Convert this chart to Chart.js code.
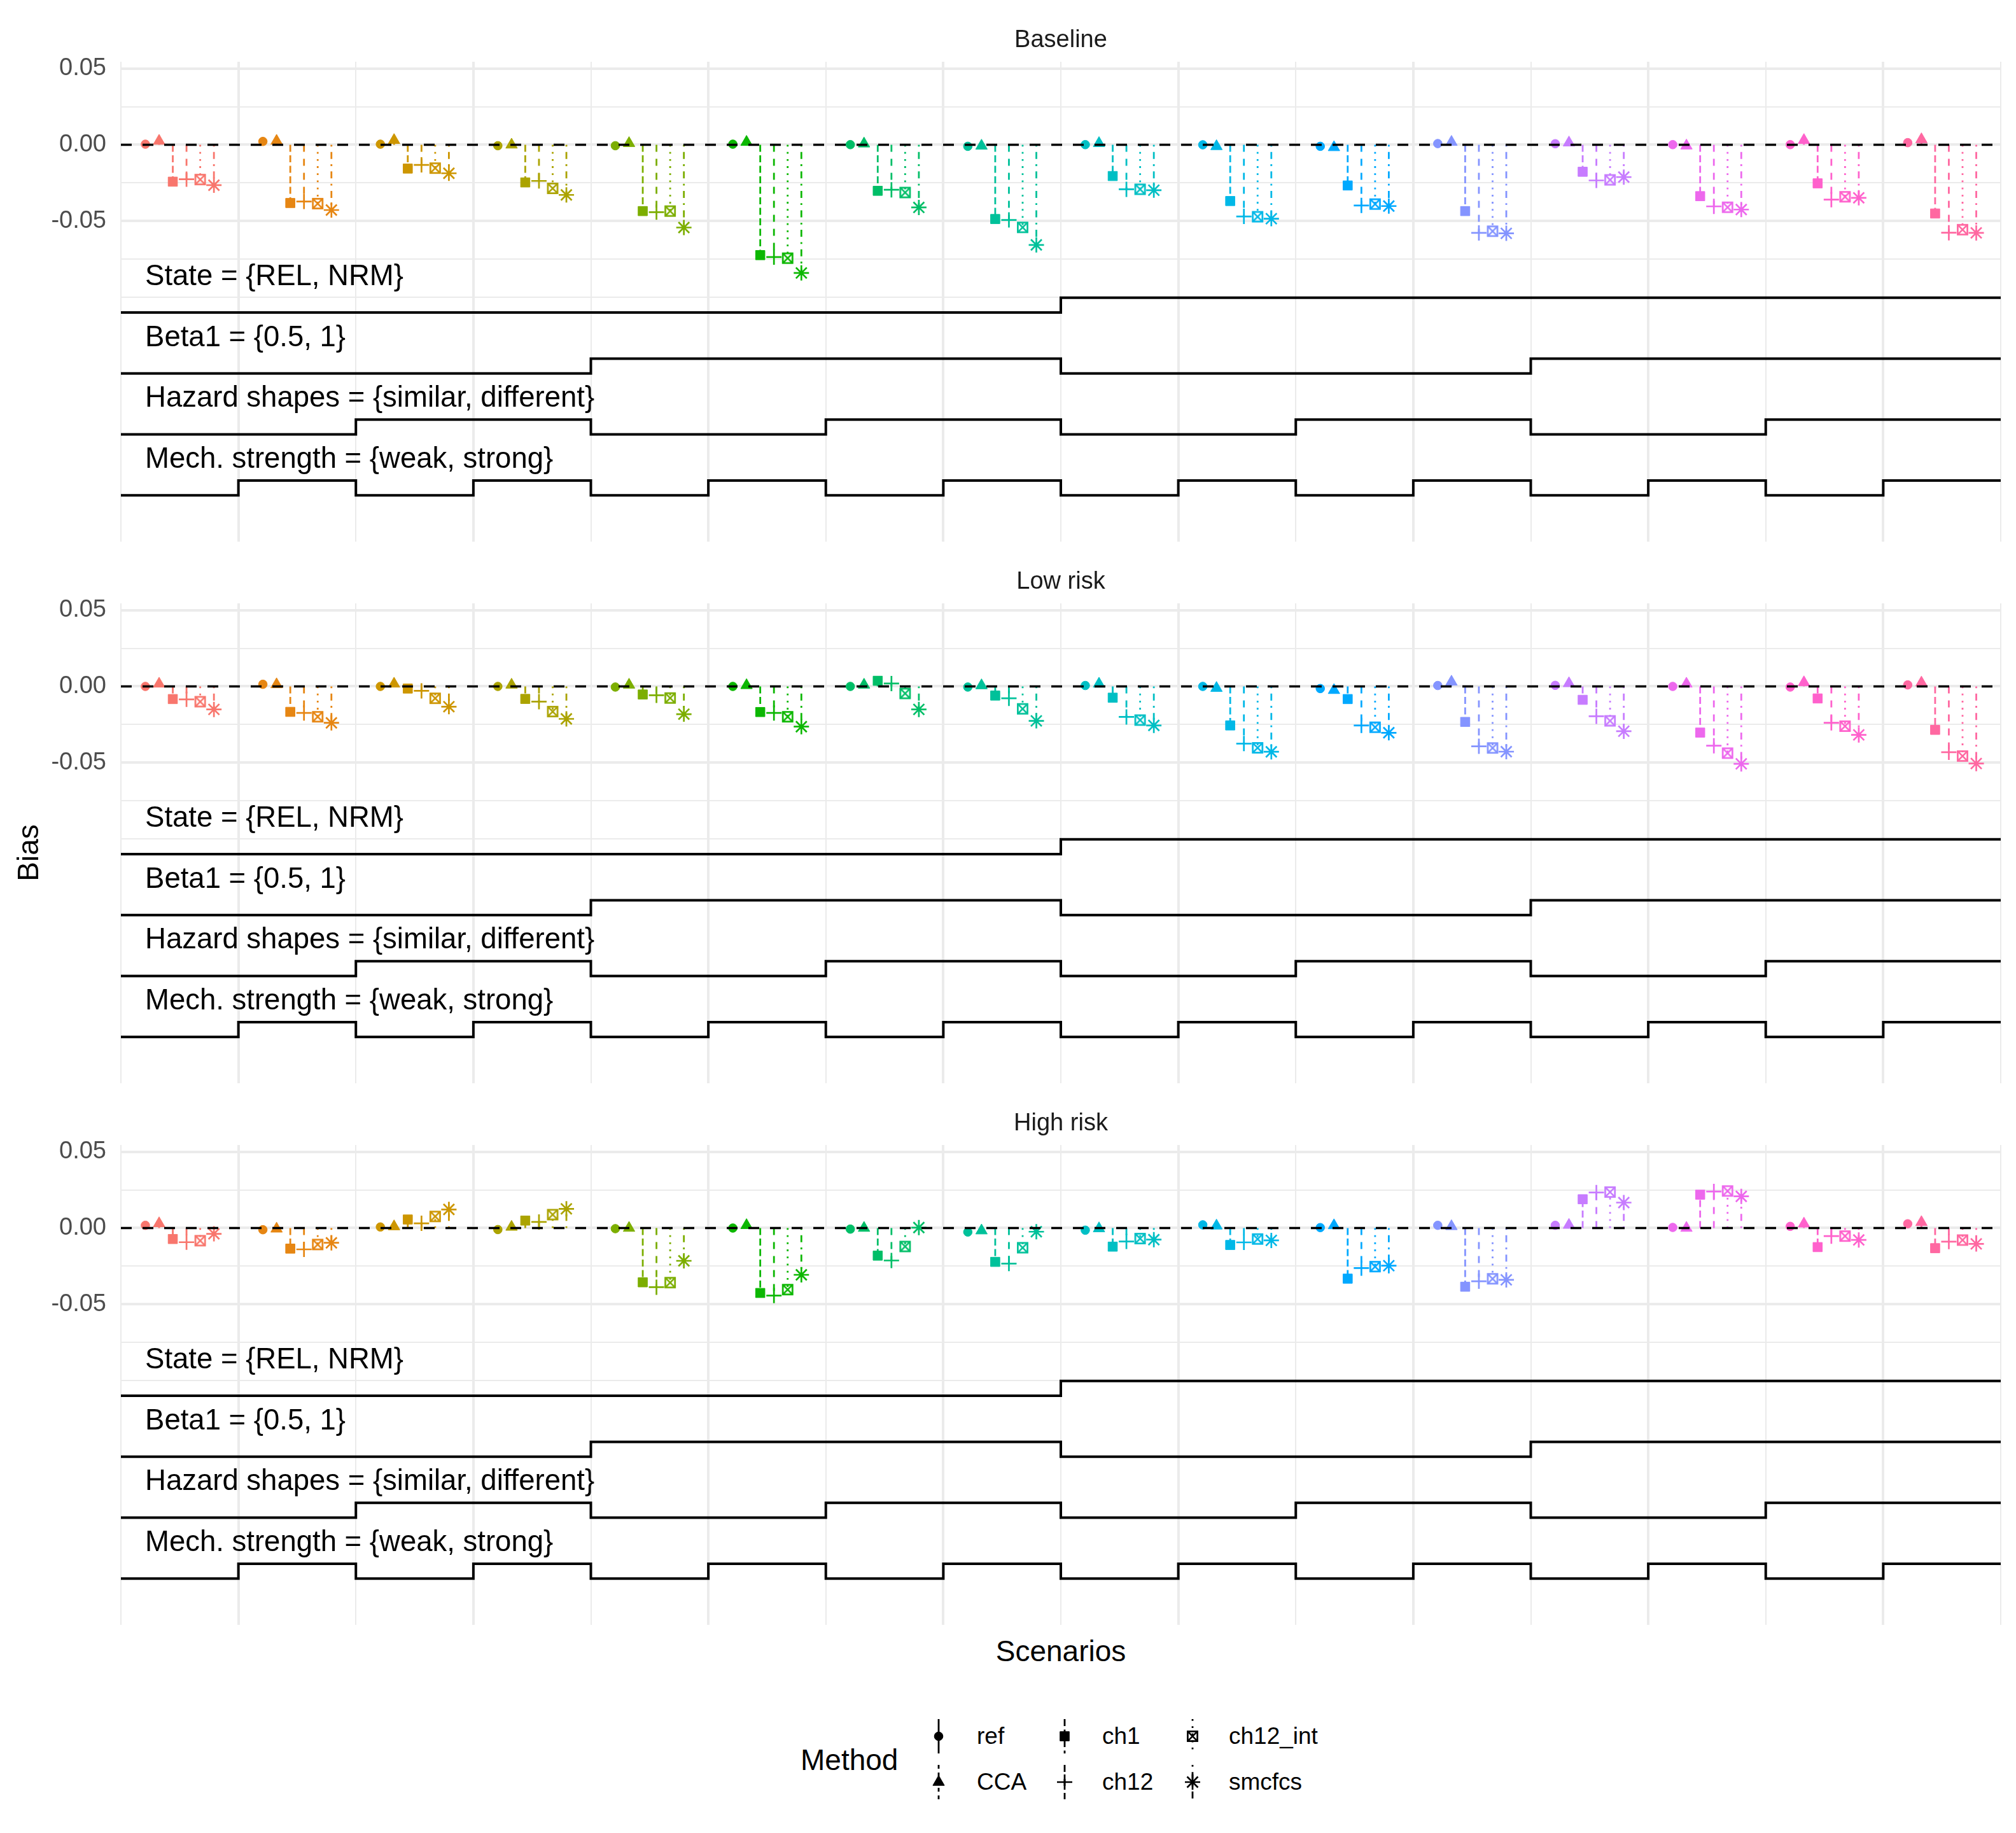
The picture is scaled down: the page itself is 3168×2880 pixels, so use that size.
<!DOCTYPE html>
<html>
<head>
<meta charset="utf-8">
<title>Bias by scenario</title>
<script src="https://cdn.jsdelivr.net/npm/chart.js@4.4.1/dist/chart.umd.min.js"></script>
<style>
html, body { margin:0; padding:0; background:#ffffff; }
#wrap { position:relative; width:3168px; height:2880px; background:#ffffff; font-family:"Liberation Sans", Arial, Helvetica, sans-serif; color:#000; overflow:hidden; }
.panel { position:absolute; left:0; width:3168px; height:851px; }
.panel canvas { display:block; }
.txt { position:absolute; white-space:nowrap; }
#ytitle { left:-56px; top:1310px; width:200px; height:60px; line-height:60px; text-align:center; font-size:46px; transform:rotate(-90deg); }
#xtitle { left:1367px; top:2564px; width:600px; height:60px; line-height:60px; text-align:center; font-size:46px; }
#legtitle { left:1258px; top:2735px; height:60px; line-height:60px; font-size:46px; }
.keylab { font-size:37px; height:50px; line-height:50px; }
.keycv { position:absolute; }
</style>
</head>
<body>
<div id="wrap">
  <div class="panel" style="top:0px"><canvas id="p0" width="3168" height="851"></canvas></div>
  <div class="panel" style="top:851px"><canvas id="p1" width="3168" height="851"></canvas></div>
  <div class="panel" style="top:1702px"><canvas id="p2" width="3168" height="851"></canvas></div>
  <div class="txt" id="ytitle">Bias</div>
  <div class="txt" id="xtitle">Scenarios</div>
  <div class="txt" id="legtitle">Method</div>
</div>
<script>
// ---------------- DATA ----------------
const scenarios = [1, 2, 3, 4, 5, 6, 7, 8, 9, 10, 11, 12, 13, 14, 15, 16];
const methods = ['ref', 'CCA', 'ch1', 'ch12', 'ch12_int', 'smcfcs'];
const panelTitles = ['Baseline', 'Low risk', 'High risk'];

const baseline_ref     = [0.0004, 0.0022, 0.0004, -0.0006, -0.0006, 0.0004, 0.0001, -0.0010, 0.0001, 0.0000, -0.0010, 0.0008, 0.0007, 0.0001, 0.0001, 0.0014];
const baseline_CCA     = [0.0025, 0.0025, 0.0030, 0.0000, 0.0010, 0.0018, 0.0007, -0.0007, 0.0010, -0.0010, -0.0017, 0.0018, 0.0014, -0.0006, 0.0030, 0.0035];
const baseline_ch1     = [-0.0242, -0.0382, -0.0156, -0.0247, -0.0435, -0.0724, -0.0302, -0.0487, -0.0205, -0.0369, -0.0267, -0.0435, -0.0177, -0.0337, -0.0253, -0.0451];
const baseline_ch12    = [-0.0226, -0.0372, -0.0132, -0.0237, -0.0442, -0.0737, -0.0295, -0.0493, -0.0292, -0.0470, -0.0398, -0.0578, -0.0234, -0.0404, -0.0360, -0.0577];
const baseline_ch12int = [-0.0228, -0.0386, -0.0153, -0.0286, -0.0435, -0.0744, -0.0313, -0.0542, -0.0292, -0.0472, -0.0389, -0.0567, -0.0230, -0.0410, -0.0341, -0.0557];
const baseline_smcfcs  = [-0.0265, -0.0428, -0.0187, -0.0329, -0.0543, -0.0841, -0.0411, -0.0657, -0.0298, -0.0485, -0.0402, -0.0581, -0.0212, -0.0425, -0.0348, -0.0578];

const lowrisk_ref      = [0.0000, 0.0014, 0.0000, 0.0000, -0.0004, 0.0000, 0.0000, -0.0004, 0.0006, 0.0000, -0.0014, 0.0006, 0.0007, 0.0000, -0.0004, 0.0010];
const lowrisk_CCA      = [0.0017, 0.0013, 0.0017, 0.0010, 0.0010, 0.0007, 0.0010, 0.0006, 0.0017, -0.0011, -0.0025, 0.0030, 0.0020, 0.0017, 0.0026, 0.0024];
const lowrisk_ch1      = [-0.0083, -0.0167, -0.0014, -0.0082, -0.0053, -0.0168, 0.0037, -0.0060, -0.0074, -0.0256, -0.0083, -0.0233, -0.0088, -0.0303, -0.0079, -0.0285];
const lowrisk_ch12     = [-0.0085, -0.0174, -0.0029, -0.0100, -0.0058, -0.0174, 0.0019, -0.0078, -0.0200, -0.0375, -0.0256, -0.0393, -0.0196, -0.0389, -0.0239, -0.0432];
const lowrisk_ch12int  = [-0.0100, -0.0199, -0.0078, -0.0165, -0.0076, -0.0199, -0.0046, -0.0147, -0.0221, -0.0403, -0.0268, -0.0404, -0.0226, -0.0438, -0.0261, -0.0457];
const lowrisk_smcfcs   = [-0.0151, -0.0239, -0.0133, -0.0213, -0.0182, -0.0264, -0.0151, -0.0226, -0.0256, -0.0429, -0.0304, -0.0428, -0.0294, -0.0508, -0.0318, -0.0506];

const highrisk_ref     = [0.0018, -0.0011, 0.0007, -0.0010, -0.0004, 0.0000, -0.0007, -0.0026, -0.0014, 0.0021, 0.0003, 0.0018, 0.0018, 0.0004, 0.0011, 0.0028];
const highrisk_CCA     = [0.0030, -0.0005, 0.0010, 0.0007, 0.0000, 0.0018, 0.0000, -0.0017, -0.0003, 0.0015, 0.0017, 0.0011, 0.0020, 0.0000, 0.0028, 0.0038];
const highrisk_ch1     = [-0.0072, -0.0135, 0.0056, 0.0049, -0.0356, -0.0426, -0.0181, -0.0222, -0.0122, -0.0111, -0.0332, -0.0385, 0.0189, 0.0219, -0.0125, -0.0132];
const highrisk_ch12    = [-0.0093, -0.0140, 0.0031, 0.0040, -0.0388, -0.0443, -0.0213, -0.0233, -0.0088, -0.0094, -0.0263, -0.0349, 0.0233, 0.0240, -0.0053, -0.0089];
const highrisk_ch12int = [-0.0083, -0.0108, 0.0076, 0.0088, -0.0358, -0.0404, -0.0121, -0.0129, -0.0069, -0.0072, -0.0253, -0.0333, 0.0236, 0.0243, -0.0053, -0.0079];
const highrisk_smcfcs  = [-0.0038, -0.0097, 0.0122, 0.0126, -0.0215, -0.0307, 0.0003, -0.0024, -0.0076, -0.0081, -0.0247, -0.0340, 0.0167, 0.0208, -0.0078, -0.0104];

// design factors (0 = first level, 1 = second level) per scenario
const stateLevel  = [0, 0, 0, 0, 0, 0, 0, 0, 1, 1, 1, 1, 1, 1, 1, 1];
const beta1Level  = [0, 0, 0, 0, 1, 1, 1, 1, 0, 0, 0, 0, 1, 1, 1, 1];
const hazardLevel = [0, 0, 1, 1, 0, 0, 1, 1, 0, 0, 1, 1, 0, 0, 1, 1];
const mechLevel   = [0, 1, 0, 1, 0, 1, 0, 1, 0, 1, 0, 1, 0, 1, 0, 1];
const factorLabels = ['State = {REL, NRM}', 'Beta1 = {0.5, 1}', 'Hazard shapes = {similar, different}', 'Mech. strength = {weak, strong}'];

const yTickValues = [0.05, 0, -0.05];
const yTickLabels = ['0.05', '0.00', '-0.05'];
const refLineValue = 0;

// ---------------- STYLE / LAYOUT CONSTANTS ----------------
const FONT = '"Liberation Sans", Arial, Helvetica, sans-serif';
const xMin = 0.5, xMax = 16.5;
const yMin = -0.2604, yMax = 0.0545;
const yGridValues = [0.05, 0.025, 0, -0.025, -0.05, -0.075, -0.1];
const dodge = 0.7 / 6;
const stepBase = -0.11, stepGap = 0.04, stepHeight = 0.0097, stepLabelLift = 0.018, stepLabelX = 0.706;

const panelSeries = [
  [baseline_ref, baseline_CCA, baseline_ch1, baseline_ch12, baseline_ch12int, baseline_smcfcs],
  [lowrisk_ref, lowrisk_CCA, lowrisk_ch1, lowrisk_ch12, lowrisk_ch12int, lowrisk_smcfcs],
  [highrisk_ref, highrisk_CCA, highrisk_ch1, highrisk_ch12, highrisk_ch12int, highrisk_smcfcs]
];
const factorLevels = [stateLevel, beta1Level, hazardLevel, mechLevel];

// ggplot2-like hue palette (HCL, c=100, l=65)
function hcl2hex(h, c, l) {
  const hr = h * Math.PI / 180;
  const U = c * Math.cos(hr), V = c * Math.sin(hr);
  const Y = l > 8 ? Math.pow((l + 16) / 116, 3) : l / 903.2963;
  const un = 0.1978398, vn = 0.4683363;
  const up = U / (13 * l) + un, vp = V / (13 * l) + vn;
  const X = Y * 9 * up / (4 * vp);
  const Z = Y * (12 - 3 * up - 20 * vp) / (4 * vp);
  const lin = [3.240479 * X - 1.537150 * Y - 0.498535 * Z,
              -0.969256 * X + 1.875992 * Y + 0.041556 * Z,
               0.055648 * X - 0.204043 * Y + 1.057311 * Z];
  return '#' + lin.map(v => {
    v = v <= 0.0031308 ? 12.92 * v : 1.055 * Math.pow(v, 1 / 2.4) - 0.055;
    v = Math.max(0, Math.min(1, v));
    return Math.round(v * 255).toString(16).padStart(2, '0');
  }).join('');
}
const nS = scenarios.length;
const colors = scenarios.map((s, i) => hcl2hex(15 + i * 360 / nS, 100, 65));

function boxCross(color) {
  const s = 26, cv = document.createElement('canvas');
  cv.width = s; cv.height = s;
  const g = cv.getContext('2d');
  g.strokeStyle = color; g.lineWidth = 2.7;
  const a = 7.6, c = s / 2;
  g.strokeRect(c - a, c - a, 2 * a, 2 * a);
  g.beginPath();
  g.moveTo(c - a, c - a); g.lineTo(c + a, c + a);
  g.moveTo(c + a, c - a); g.lineTo(c - a, c + a);
  g.stroke();
  return cv;
}
const boxGlyphs = colors.map(boxCross);

const mStyles  = ['circle', 'triangle', 'rect', 'cross', 'boxcross', 'star'];
const mRadius  = [6.8, 10.5, 10.3, 12, 10, 12];
const mBorder  = [1, 1, 1, 2.7, 0, 2.7];
const mDash    = [[], [6, 6], [11, 5.5], [11, 11], [2.8, 8.4], [2.8, 8.4, 11, 8.4]];
const lineW = 2.8;

// ---------------- CHARTS ----------------
const panelDecor = {
  id: 'panelDecor',
  afterDatasetsDraw(chart, args, opts) {
    const {ctx, chartArea} = chart;
    const xs = chart.scales.x, ys = chart.scales.y;
    ctx.save();
    ctx.fillStyle = '#000000';
    ctx.font = '45.5px ' + FONT;
    ctx.textAlign = 'left';
    ctx.textBaseline = 'alphabetic';
    factorLabels.forEach((lab, fi) => {
      ctx.fillText(lab, xs.getPixelForValue(stepLabelX), ys.getPixelForValue(stepBase - fi * stepGap + stepLabelLift));
    });
    ctx.fillStyle = '#1A1A1A';
    ctx.font = '38px ' + FONT;
    ctx.textAlign = 'center';
    ctx.fillText(opts.title, (chartArea.left + chartArea.right) / 2, chartArea.top - 23);
    ctx.restore();
  }
};

function near(a, b) { return Math.abs(a - b) < 1e-9; }

function makeChart(canvasId, title, series) {
  const datasets = [];
  // reference line at zero (drawn on top)
  datasets.push({
    data: [{x: xMin, y: refLineValue}, {x: xMax, y: refLineValue}],
    borderColor: '#000000', borderWidth: 3.6, borderDash: [17, 17],
    pointRadius: 0, order: 0
  });
  // method lineranges + points
  methods.forEach((m, mi) => {
    const vals = series[mi];
    const pts = [];
    scenarios.forEach((s, i) => {
      const x = s + (mi - (methods.length - 1) / 2) * dodge;
      pts.push({x: x, y: 0}, {x: x, y: vals[i]}, {x: x, y: null});
    });
    datasets.push({
      label: m,
      data: pts,
      spanGaps: false,
      borderWidth: lineW,
      borderDash: mDash[mi],
      borderColor: '#000000',
      segment: { borderColor: c => colors[Math.floor(c.p0DataIndex / 3)] },
      pointStyle: mStyles[mi] === 'boxcross' ? (c => boxGlyphs[Math.floor(c.dataIndex / 3)]) : mStyles[mi],
      pointRadius: c => (c.dataIndex % 3 === 1 ? mRadius[mi] : 0),
      pointBackgroundColor: c => colors[Math.floor(c.dataIndex / 3)],
      pointBorderColor: c => colors[Math.floor(c.dataIndex / 3)],
      pointBorderWidth: mBorder[mi],
      order: 1 + (methods.length - mi)
    });
  });
  // design-factor step lines
  factorLevels.forEach((lv, fi) => {
    const base = stepBase - fi * stepGap;
    const pts = lv.map((v, i) => ({x: scenarios[i] - 0.5, y: base + v * stepHeight}));
    pts.push({x: scenarios[nS - 1] + 0.5, y: base + lv[nS - 1] * stepHeight});
    datasets.push({
      data: pts, stepped: true, borderColor: '#000000', borderWidth: 4,
      pointRadius: 0, order: 20
    });
  });

  return new Chart(document.getElementById(canvasId), {
    type: 'line',
    data: { datasets: datasets },
    plugins: [panelDecor],
    options: {
      responsive: false,
      animation: false,
      devicePixelRatio: 1,
      events: [],
      layout: { padding: { top: 97, left: 0, right: 24, bottom: 0 } },
      plugins: {
        legend: { display: false },
        tooltip: { enabled: false },
        title: { display: false },
        panelDecor: { title: title }
      },
      scales: {
        x: {
          type: 'linear', min: xMin, max: xMax,
          afterBuildTicks: s => { s.ticks = []; for (let v = xMin; v <= xMax + 1e-9; v += 1) s.ticks.push({value: v}); },
          afterFit: s => { s.height = 0; s.paddingLeft = 0; s.paddingRight = 0; },
          ticks: { display: false },
          border: { display: false },
          grid: {
            color: '#EBEBEB', drawTicks: false,
            lineWidth: c => (near(((c.tick.value - 1.5) % 2 + 2) % 2, 0) ? 4 : 2)
          }
        },
        y: {
          type: 'linear', min: yMin, max: yMax,
          afterBuildTicks: s => { s.ticks = yGridValues.map(v => ({value: v})); },
          afterFit: s => { s.width = 190; s.paddingTop = 0; s.paddingBottom = 0; },
          border: { display: false },
          ticks: {
            autoSkip: false, padding: 23, color: '#4D4D4D',
            font: { family: 'Liberation Sans', size: 38 },
            callback: v => { const k = yTickValues.findIndex(t => near(t, v)); return k >= 0 ? yTickLabels[k] : ''; }
          },
          grid: {
            color: '#EBEBEB', drawTicks: false,
            lineWidth: c => (yTickValues.some(t => near(t, c.tick.value)) ? 4 : 2)
          }
        }
      }
    }
  });
}

panelTitles.forEach((t, k) => makeChart('p' + k, t, panelSeries[k]));

// ---------------- LEGEND ----------------
const wrap = document.getElementById('wrap');
const keyCols = [1475, 1673, 1874];
const keyTextX = [1535, 1732, 1931];
const keyRows = [2728, 2800];
function drawKey(mi, cx, cy) {
  const cv = document.createElement('canvas');
  cv.width = 40; cv.height = 56;
  cv.className = 'keycv';
  cv.style.left = (cx - 20) + 'px';
  cv.style.top = (cy - 28) + 'px';
  const g = cv.getContext('2d');
  g.strokeStyle = '#000'; g.lineWidth = lineW; g.setLineDash(mDash[mi]);
  g.beginPath(); g.moveTo(20, 1); g.lineTo(20, 55); g.stroke();
  g.setLineDash([]);
  g.fillStyle = '#000'; g.strokeStyle = '#000'; g.lineWidth = mBorder[mi];
  const style = mStyles[mi] === 'boxcross' ? boxCross('#000000') : mStyles[mi];
  if (Chart.helpers && Chart.helpers.drawPoint) {
    Chart.helpers.drawPoint(g, {pointStyle: style, radius: mRadius[mi], rotation: 0, borderWidth: mBorder[mi]}, 20, 28);
  }
  wrap.appendChild(cv);
  const lab = document.createElement('div');
  lab.className = 'txt keylab';
  lab.textContent = methods[mi];
  lab.style.left = keyTextX[Math.floor(mi / 2)] + 'px';
  lab.style.top = (cy - 25) + 'px';
  wrap.appendChild(lab);
}
methods.forEach((m, mi) => {
  const col = Math.floor(mi / 2), row = mi % 2;
  drawKey(mi, keyCols[col], keyRows[row]);
});
</script>
</body>
</html>
